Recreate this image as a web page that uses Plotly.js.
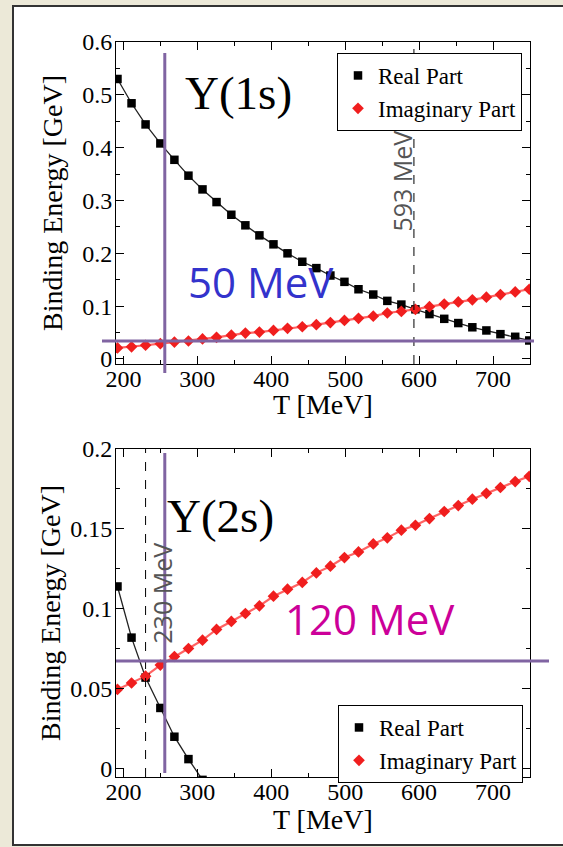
<!DOCTYPE html>
<html><head><meta charset="utf-8">
<script src="https://cdn.plot.ly/plotly-3.0.1.min.js"></script>
<style>html,body{margin:0;padding:0;background:#ECE9D8;} #chart{width:563px;height:847px;}</style>
</head><body><div id="chart"></div>
<script>
// ---- data ----
const temps = [192,211,230,250,269,288,307,326,346,365,384,403,422,442,461,480,499,518,538,557,576,595,614,634,653,672,691,710,730,749];
const real1s = [0.530,0.484,0.444,0.408,0.377,0.347,0.321,0.297,0.273,0.253,0.234,0.217,0.200,0.184,0.172,0.158,0.146,0.132,0.122,0.110,0.103,0.094,0.085,0.076,0.068,0.060,0.054,0.047,0.042,0.035];
const imag1s = [0.021,0.023,0.026,0.029,0.032,0.034,0.038,0.041,0.045,0.049,0.051,0.054,0.058,0.061,0.065,0.069,0.073,0.077,0.081,0.087,0.090,0.094,0.099,0.104,0.108,0.112,0.117,0.122,0.127,0.132];
const temps2sReal = [192,211,230,250,269,288,307];
const real2s = [0.114,0.082,0.057,0.038,0.020,0.006,-0.007];
const imag2s = [0.0496,0.0536,0.0579,0.0648,0.0702,0.0752,0.0804,0.0871,0.0921,0.0971,0.1019,0.1079,0.1123,0.1165,0.1225,0.1267,0.1321,0.1356,0.1406,0.1444,0.1492,0.1523,0.1565,0.1609,0.1646,0.1686,0.1723,0.1759,0.1796,0.1829];
const seriesNames = ['Real Part', 'Imaginary Part'];
const stateLabels = ['Y(1s)', 'Y(2s)'];
const widthLabels = ['50 MeV', '120 MeV'];
const dissocTemps = [593, 230];
const dissocLabels = ['593 MeV', '230 MeV'];
const markTemp = 256;
const widthLevels = [0.034, 0.0673];
const xTitle = 'T [MeV]';
const yTitle = 'Binding Energy [GeV]';

// ---- styles ----
const serif = 'Liberation Serif, Times New Roman, serif';
const sans = 'Open Sans, Noto Sans, sans-serif';
const purple = '#8064A2';
const redLine = 'rgba(255,60,60,0.8)';
const redMark = 'rgb(240,30,30)';

function lineTrace(x, y, color, w, xa, ya) {
  return {x: x, y: y, xaxis: xa, yaxis: ya, mode: 'lines', line: {color: color, width: w}, showlegend: false, hoverinfo: 'skip'};
}
function markTrace(x, y, name, symbol, color, size, xa, ya, leg) {
  return {x: x, y: y, xaxis: xa, yaxis: ya, mode: 'markers', name: name, legend: leg,
    marker: {symbol: symbol, color: color, size: size, line: {width: 0}}};
}

const data = [
  lineTrace(temps, real1s, '#222', 1.3, 'x', 'y'),
  lineTrace(temps, imag1s, redLine, 2.2, 'x', 'y'),
  markTrace(temps, real1s, seriesNames[0], 'square', '#000', 8.5, 'x', 'y', 'legend'),
  markTrace(temps, imag1s, seriesNames[1], 'diamond', redMark, 9, 'x', 'y', 'legend'),
  lineTrace(temps2sReal, real2s, '#222', 1.3, 'x2', 'y2'),
  lineTrace(temps, imag2s, redLine, 2.2, 'x2', 'y2'),
  markTrace(temps2sReal, real2s, seriesNames[0], 'square', '#000', 8.5, 'x2', 'y2', 'legend2'),
  markTrace(temps, imag2s, seriesNames[1], 'diamond', redMark, 9, 'x2', 'y2', 'legend2')
];

const W = 563, H = 847;
const xDom = [116 / W, 530 / W];
const yDom1 = [1 - 364 / H, 1 - 42 / H];
const yDom2 = [1 - 777 / H, 1 - 449 / H];

function xAxis(anchor) {
  return {domain: xDom, anchor: anchor, range: [190, 750], dtick: 100, tick0: 0,
    ticks: 'inside', ticklen: 8, tickwidth: 1, tickcolor: '#000', ticklabelstandoff: -7,
    minor: {dtick: 50, ticks: 'inside', ticklen: 4, tickcolor: '#000'},
    showline: true, linecolor: '#000', linewidth: 1, mirror: 'ticks',
    showgrid: false, zeroline: false, automargin: false,
    tickfont: {family: serif, size: 24, color: '#000'}};
}
function yAxis(anchor, dom, range, dtick, standoff) {
  return {domain: dom, anchor: anchor, range: range, dtick: dtick, tick0: 0,
    ticks: 'inside', ticklen: 8, tickwidth: 1, tickcolor: '#000', ticklabelstandoff: -2,
    minor: {dtick: dtick / 2, ticks: 'inside', ticklen: 4, tickcolor: '#000'},
    showline: true, linecolor: '#000', linewidth: 1, mirror: 'ticks',
    showgrid: false, zeroline: false, automargin: false,
    tickfont: {family: serif, size: 24, color: '#000'},
    title: {text: yTitle, font: {family: serif, size: 28, color: '#000'}, standoff: standoff}};
}

const shapes = [
  // slide frame
  {type: 'rect', xref: 'paper', yref: 'paper', x0: 13 / W, x1: 1.02, y0: 2 / H, y1: 1 - 6 / H,
   fillcolor: '#fff', line: {color: '#333', width: 2}, layer: 'below'},
  // dashed dissociation lines
  {type: 'line', xref: 'x', yref: 'y domain', x0: dissocTemps[0], x1: dissocTemps[0], y0: 0, y1: 1,
   line: {color: '#000', width: 1, dash: 'dash'}},
  {type: 'line', xref: 'x2', yref: 'y2 domain', x0: dissocTemps[1], x1: dissocTemps[1], y0: 0, y1: 1,
   line: {color: '#000', width: 1, dash: 'dash'}},
  // purple guide lines
  {type: 'line', xref: 'x', yref: 'paper', x0: markTemp, x1: markTemp, y0: 1 - 373 / H, y1: 1 - 53 / H,
   line: {color: purple, width: 3}},
  {type: 'line', xref: 'paper', yref: 'y', x0: 102 / W, x1: 534 / W, y0: widthLevels[0], y1: widthLevels[0],
   line: {color: purple, width: 3}},
  {type: 'line', xref: 'x2', yref: 'paper', x0: markTemp, x1: markTemp, y0: 1 - 773 / H, y1: 1 - 453 / H,
   line: {color: purple, width: 3}},
  {type: 'line', xref: 'paper', yref: 'y2', x0: 116 / W, x1: 549 / W, y0: widthLevels[1], y1: widthLevels[1],
   line: {color: purple, width: 3}}
];

const annotations = [
  {xref: 'x', yref: 'y', x: 356, y: 0.503, text: stateLabels[0], showarrow: false,
   font: {family: serif, size: 47, color: '#000'}},
  {xref: 'x2', yref: 'y2', x: 332, y: 0.158, text: stateLabels[1], showarrow: false,
   font: {family: serif, size: 47, color: '#000'}},
  {xref: 'x', yref: 'y', x: 386, y: 0.146, text: widthLabels[0], showarrow: false,
   font: {family: sans, size: 42, color: '#3333CC'}},
  {xref: 'x2', yref: 'y2', x: 534, y: 0.094, text: widthLabels[1], showarrow: false,
   font: {family: sans, size: 42, color: '#CC0099'}},
  {xref: 'x', yref: 'y', x: 577, y: 0.336, text: dissocLabels[0], showarrow: false, textangle: -90,
   font: {family: sans, size: 25, color: '#555'}},
  {xref: 'x2', yref: 'y2', x: 252, y: 0.11, text: dissocLabels[1], showarrow: false, textangle: -90,
   font: {family: sans, size: 25, color: '#555'}},
  // x-axis titles
  {xref: 'x domain', yref: 'paper', x: 0.5, y: 1 - 404 / H, text: xTitle, showarrow: false, yanchor: 'middle',
   font: {family: serif, size: 28, color: '#000'}},
  {xref: 'x2 domain', yref: 'paper', x: 0.5, y: 1 - 819 / H, text: xTitle, showarrow: false, yanchor: 'middle',
   font: {family: serif, size: 28, color: '#000'}}
];

const legendBase = {xanchor: 'left', yanchor: 'top', bgcolor: '#fff', bordercolor: '#000', borderwidth: 1,
  font: {family: serif, size: 23, color: '#000'}, itemwidth: 30, tracegroupgap: 0};

const layout = {
  width: W, height: H, margin: {l: 0, r: 0, t: 0, b: 0},
  paper_bgcolor: '#ECE9D8', plot_bgcolor: '#fff',
  xaxis: xAxis('y'), yaxis: yAxis('x', yDom1, [-0.0095, 0.6], 0.1, 11),
  xaxis2: xAxis('y2'), yaxis2: yAxis('x2', yDom2, [-0.0052, 0.2], 0.05, 1),
  legend: Object.assign({x: 337 / W, y: 1 - 53 / H}, legendBase),
  legend2: Object.assign({x: 338 / W, y: 1 - 705 / H}, legendBase),
  shapes: shapes, annotations: annotations, showlegend: true
};

Plotly.newPlot('chart', data, layout, {displayModeBar: false, staticPlot: true});
</script></body></html>
